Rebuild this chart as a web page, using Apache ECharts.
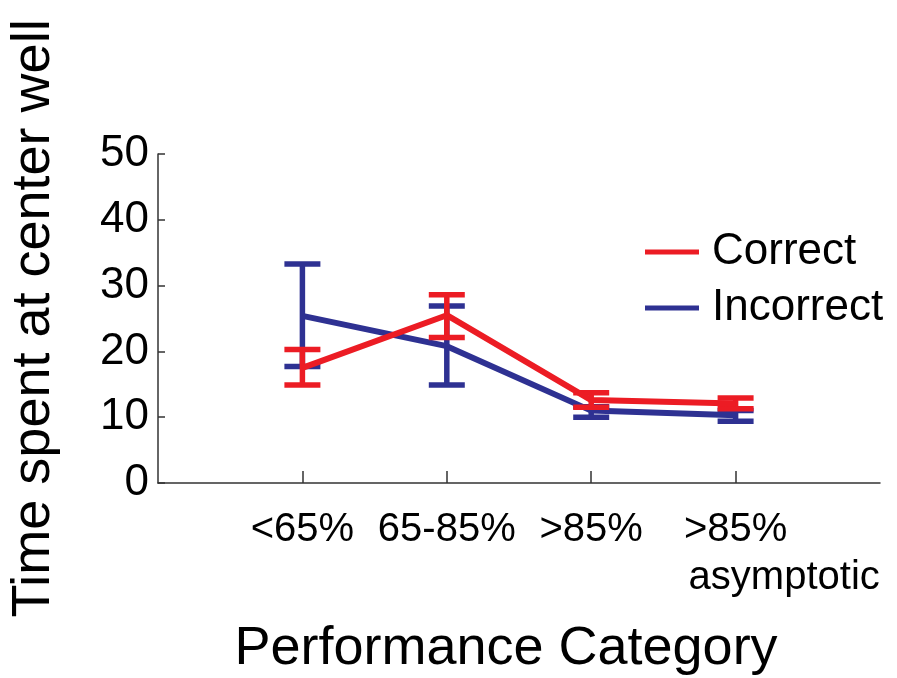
<!DOCTYPE html>
<html>
<head>
<meta charset="utf-8">
<script src="https://cdn.jsdelivr.net/npm/echarts@6/dist/echarts.min.js"></script>
<style>
  html, body { margin: 0; padding: 0; background: #fff; }
  #chart { width: 897px; height: 678px; }
</style>
</head>
<body>
<div id="chart"></div>
<script>
// Performance categories, placed at x = 1..4 on the axis
const categories = ['<65%', '65-85%', '>85%', '>85%'];
const categorySubLabels = ['', '', '', 'asymptotic'];

// Mean time spent at the center well, with error bar bounds
const correctMean  = [17.5, 25.5, 12.6, 12.1];
const correctLow   = [14.9, 22.1, 11.5, 11.3];
const correctHigh  = [20.3, 28.6, 13.7, 12.9];

const incorrectMean = [25.4, 20.8, 11.0, 10.3];
const incorrectLow  = [17.7, 14.9, 10.0, 9.4];
const incorrectHigh = [33.3, 26.9, 11.6, 11.0];

const yTicks = [0, 10, 20, 30, 40, 50];

const RED = '#ec1c24';
const BLUE = '#2e3192';
const FONT = '"Liberation Sans", Arial, sans-serif';

function meanData(arr) { return arr.map((v, i) => [i + 1, v]); }
function barData(lo, hi) { return lo.map((v, i) => [i + 1, v, hi[i]]); }

function errorBarSeries(name, lo, hi, color, z) {
  return {
    name: name + ' error',
    type: 'custom',
    z: z,
    silent: true,
    data: barData(lo, hi),
    renderItem: function (params, api) {
      const x = api.value(0);
      const top = api.coord([x, api.value(2)]);
      const bot = api.coord([x, api.value(1)]);
      const half = 18;
      const style = { stroke: color, lineWidth: 5.5, fill: null };
      return {
        type: 'group',
        children: [
          { type: 'line', shape: { x1: top[0], y1: top[1], x2: bot[0], y2: bot[1] }, style: style },
          { type: 'line', shape: { x1: top[0] - half, y1: top[1], x2: top[0] + half, y2: top[1] }, style: style },
          { type: 'line', shape: { x1: bot[0] - half, y1: bot[1], x2: bot[0] + half, y2: bot[1] }, style: style }
        ]
      };
    }
  };
}

const chart = echarts.init(document.getElementById('chart'), null, { renderer: 'canvas' });

chart.setOption({
  animation: false,
  backgroundColor: '#fff',
  textStyle: { fontFamily: FONT },
  grid: { left: 158, right: 17, top: 154, bottom: 195, containLabel: false, outerBoundsMode: 'none' },
  legend: {
    orient: 'vertical',
    left: 640,
    top: 222,
    itemWidth: 54,
    itemHeight: 5,
    itemGap: 6,
    icon: 'rect',
    data: ['Correct', 'Incorrect'],
    textStyle: { fontSize: 44, color: '#000', fontFamily: FONT, lineHeight: 50, padding: [0, 0, 0, 8] }
  },
  xAxis: {
    type: 'value',
    min: 0,
    max: 5,
    interval: 1,
    splitLine: { show: false },
    axisLine: { show: true, lineStyle: { color: '#333', width: 1.5 } },
    axisTick: { show: true, inside: true, length: 12, lineStyle: { color: '#333', width: 1.5 } },
    axisLabel: {
      fontSize: 40,
      color: '#000',
      fontFamily: FONT,
      margin: 27,
      showMinLabel: false,
      showMaxLabel: false,
      formatter: function (v) {
        const i = Math.round(v) - 1;
        return (i >= 0 && i < categories.length) ? categories[i] : '';
      }
    },
    name: 'Performance Category',
    nameLocation: 'middle',
    nameGap: 139,
    nameTextStyle: { fontSize: 54, color: '#000', fontFamily: FONT, padding: [0, 26, 0, 0] }
  },
  yAxis: {
    type: 'value',
    min: 0,
    max: 50,
    interval: 10,
    splitLine: { show: false },
    axisLine: { show: true, lineStyle: { color: '#333', width: 1.5 } },
    axisTick: { show: true, inside: true, length: 7, lineStyle: { color: '#333', width: 1.5 } },
    axisLabel: {
      fontSize: 44,
      color: '#000',
      fontFamily: FONT,
      margin: 9,
      formatter: function (v) { return yTicks.indexOf(v) >= 0 ? String(v) : ''; }
    },
    name: 'Time spent at center well',
    nameLocation: 'middle',
    nameGap: 97,
    nameTextStyle: { fontSize: 54, color: '#000', fontFamily: FONT }
  },
  series: [
    errorBarSeries('Incorrect', incorrectLow, incorrectHigh, BLUE, 2),
    {
      name: 'Incorrect',
      type: 'line',
      z: 3,
      data: meanData(incorrectMean),
      showSymbol: false,
      symbol: 'none',
      lineStyle: { color: BLUE, width: 6 },
      itemStyle: { color: BLUE }
    },
    errorBarSeries('Correct', correctLow, correctHigh, RED, 4),
    {
      name: 'Correct',
      type: 'line',
      z: 5,
      data: meanData(correctMean),
      showSymbol: false,
      symbol: 'none',
      lineStyle: { color: RED, width: 6 },
      itemStyle: { color: RED }
    }
  ]
});

// Second line of the last category label, left-aligned with its first line
const subGraphics = [];
categorySubLabels.forEach(function (txt, i) {
  if (!txt) return;
  const p = chart.convertToPixel({ xAxisIndex: 0, yAxisIndex: 0 }, [i + 1, 0]);
  subGraphics.push({
    type: 'text',
    left: p[0] - 47,
    top: p[1] + 75,
    style: { text: txt, fontSize: 40, fill: '#000', font: '40px ' + FONT }
  });
});
chart.setOption({ graphic: subGraphics });
</script>
</body>
</html>
